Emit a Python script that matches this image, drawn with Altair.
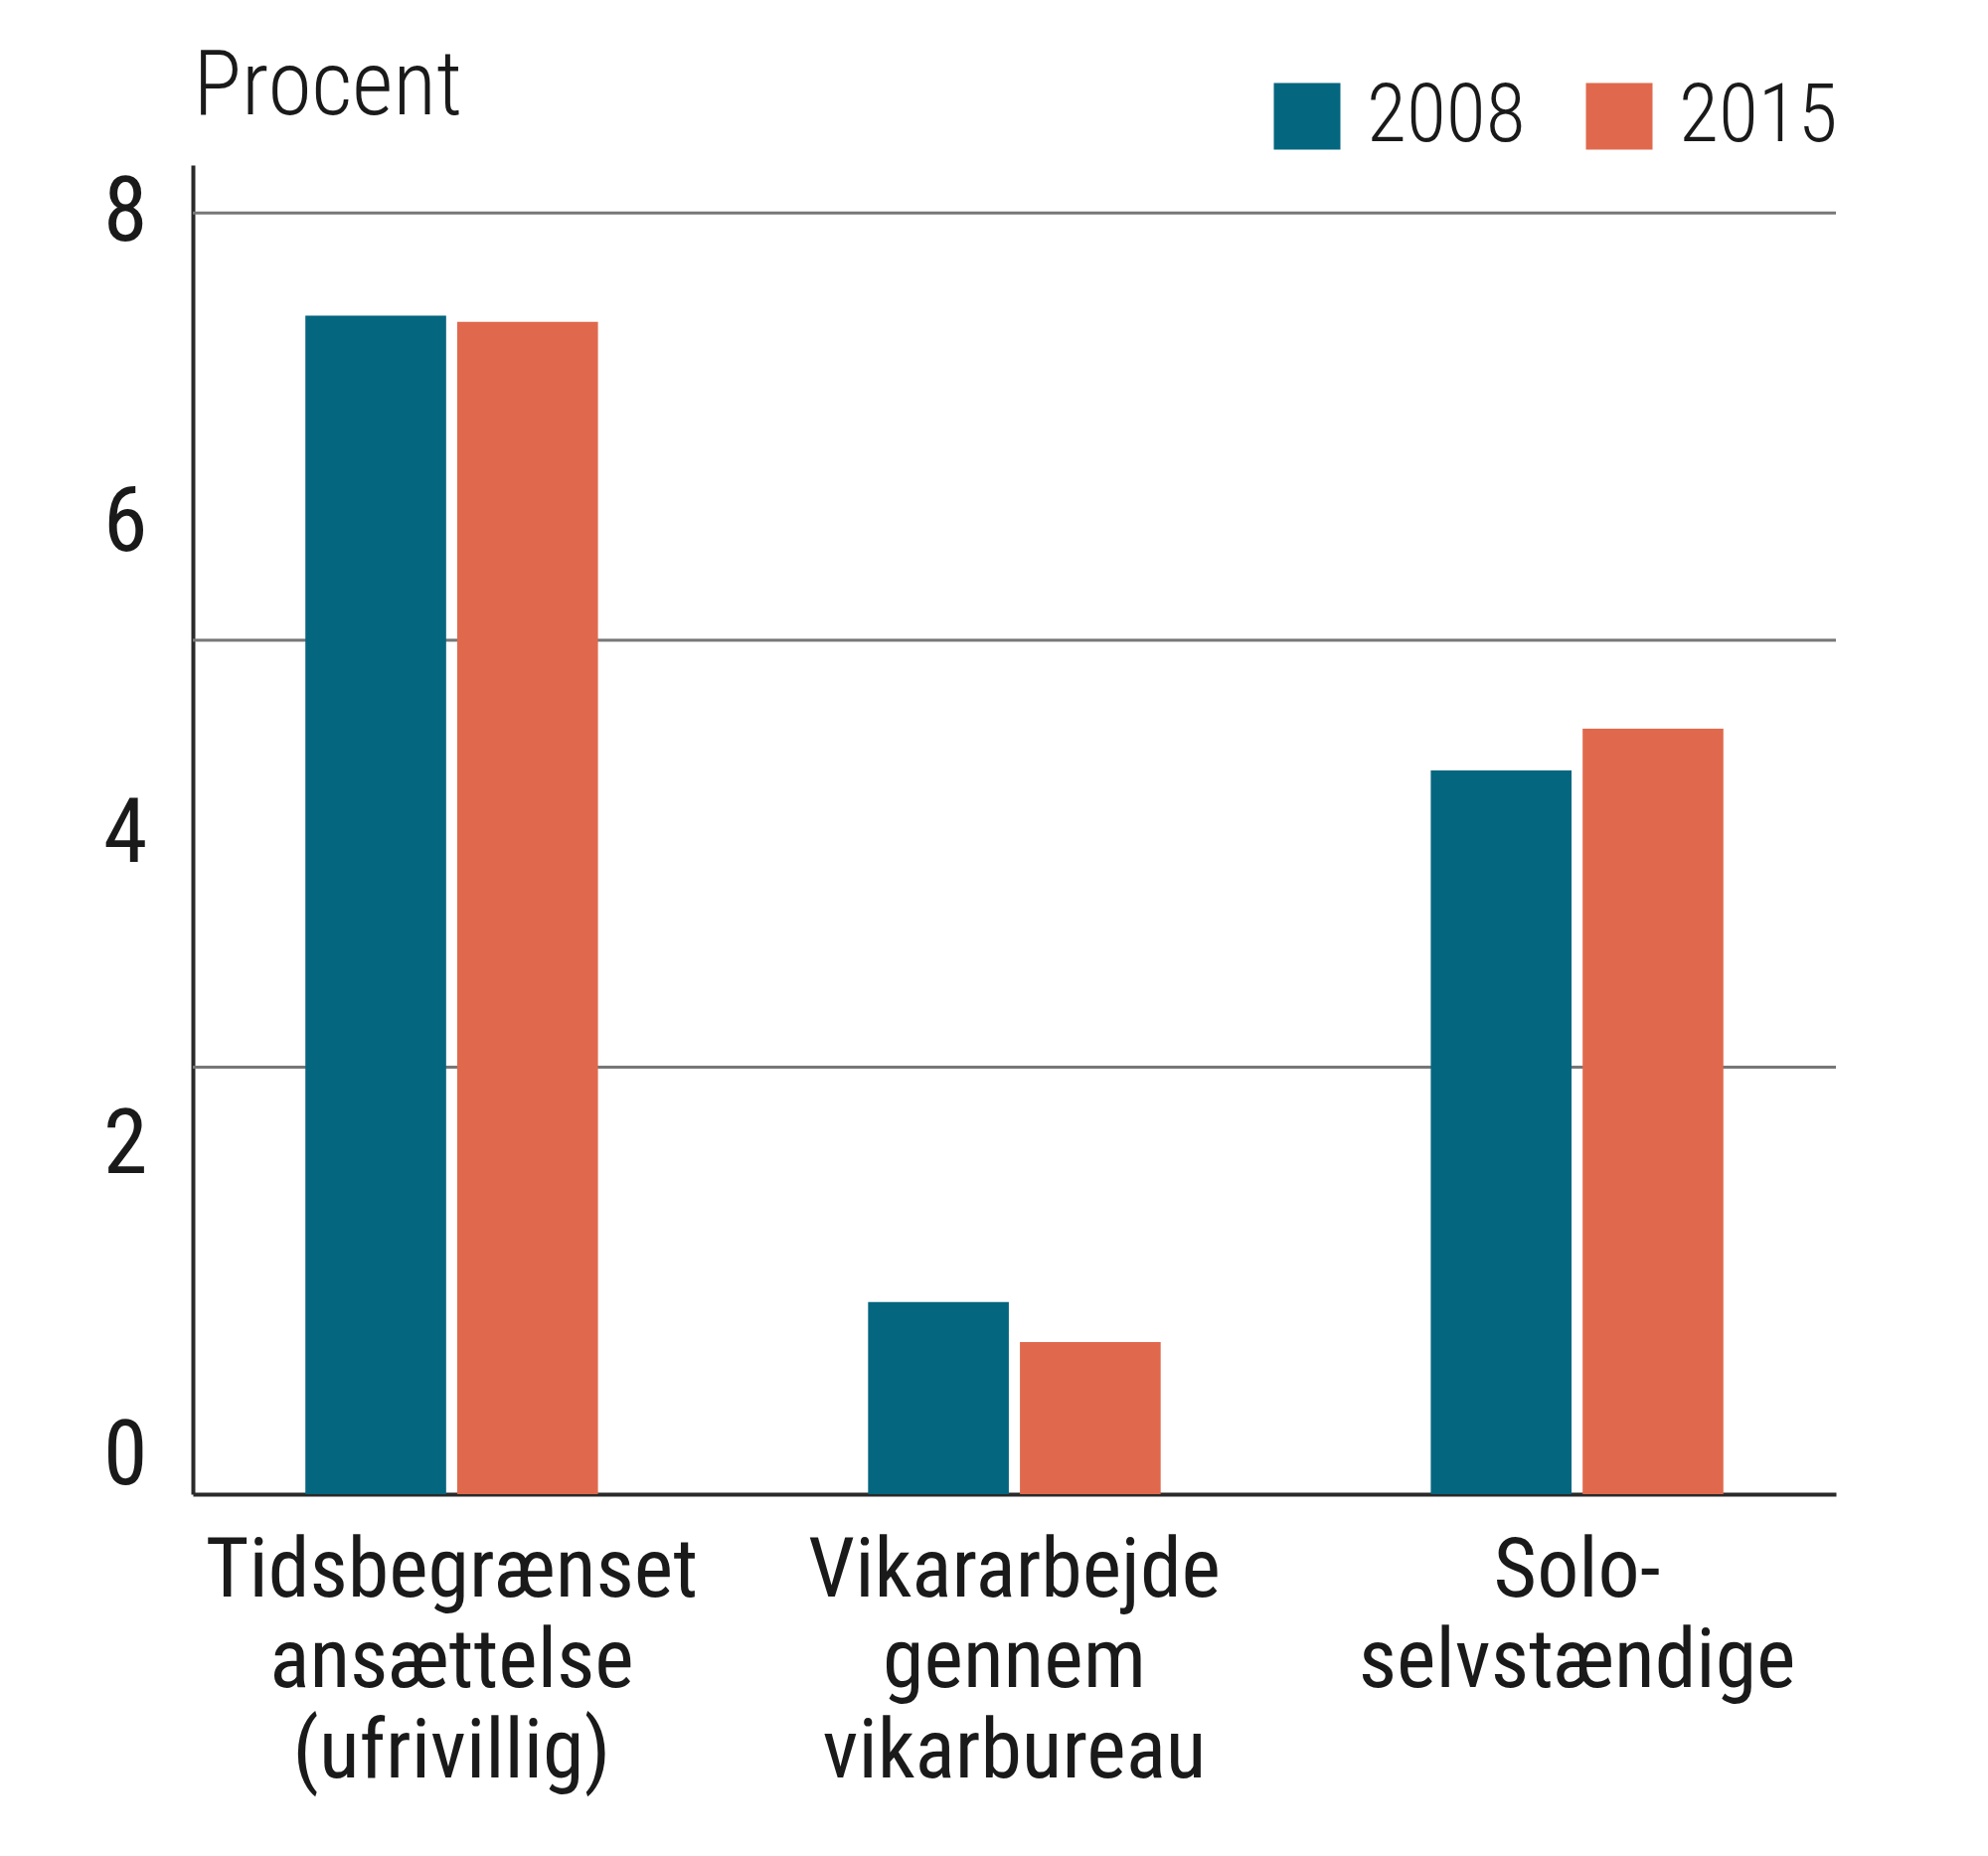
import altair as alt
import pandas as pd

# values (percent)
categories = [
    "Tidsbegrænset\nansættelse\n(ufrivillig)",
    "Vikararbejde\ngennem\nvikarbureau",
    "Solo-\nselvstændige",
]
years = ["2008", "2015"]
values_2008 = [7.36, 1.20, 4.52]
values_2015 = [7.32, 0.95, 4.78]

# axis furniture
grid_values = [8 / 3, 16 / 3, 8]
tick_labels = [0, 2, 4, 6, 8]

colors = ["#05667f", "#e0694d"]
FONT = "Roboto Condensed, Liberation Sans Narrow, Roboto, sans-serif"

rows = []
for i, cat in enumerate(categories):
    rows.append({"cat": cat, "year": years[0], "value": values_2008[i]})
    rows.append({"cat": cat, "year": years[1], "value": values_2015[i]})
bars_df = pd.DataFrame(rows)
grid_df = pd.DataFrame({"g": grid_values})
ticks_df = pd.DataFrame({"v": tick_labels})

y_main = alt.Scale(domain=[0, 8.30], nice=False, zero=False)

bars = (
    alt.Chart(bars_df)
    .mark_bar()
    .encode(
        x=alt.X("cat:N", sort=categories, title=None,
                scale=alt.Scale(paddingInner=0.48, paddingOuter=0.20),
                axis=alt.Axis(labelExpr="split(datum.label, '\\n')",
                              labelAngle=0, labelFont=FONT, labelFontSize=84,
                              labelFontWeight="normal", labelColor="#1a1a1a",
                              labelLineHeight=91, labelBaseline="top",
                              labelPadding=36, labelLimit=0, ticks=False,
                              domainColor="#2a2a2a", domainWidth=4)),
        xOffset=alt.XOffset("year:N", scale=alt.Scale(paddingInner=0.073)),
        y=alt.Y("value:Q", scale=y_main, axis=None),
        color=alt.Color("year:N", scale=alt.Scale(domain=years, range=colors),
                        legend=alt.Legend(title=None, orient="none",
                                          direction="horizontal",
                                          legendX=1080, legendY=-90,
                                          symbolType="square", symbolSize=4489,
                                          symbolStrokeWidth=0, symbolOpacity=1,
                                          labelFont=FONT, labelFontSize=82,
                                          labelFontWeight=300,
                                          labelColor="#1a1a1a", labelOffset=19,
                                          labelLimit=0, columnPadding=53)),
    )
)

grid = (
    alt.Chart(grid_df)
    .mark_rule(color="#777777", strokeWidth=3)
    .encode(y=alt.Y("g:Q", scale=y_main, axis=None))
)

labels = (
    alt.Chart(ticks_df)
    .mark_point(opacity=0)
    .encode(
        y=alt.Y("v:Q", scale=alt.Scale(domain=[-0.243, 8.307], nice=False, zero=False),
                axis=alt.Axis(values=tick_labels, orient="left", grid=False,
                              ticks=False, domain=True, domainColor="#2a2a2a",
                              domainWidth=4, labelFont=FONT, labelFontSize=90,
                              labelColor="#1a1a1a", labelPadding=46,
                              title="Procent", titleAngle=0, titleAlign="left",
                              titleBaseline="alphabetic", titleX=0, titleY=-52,
                              titleFont=FONT, titleFontSize=90,
                              titleFontWeight=300, titleColor="#1a1a1a"))
    )
)

chart = (
    alt.layer(grid, bars, labels)
    .resolve_scale(y="independent")
    .properties(width=1653, height=1337,
                autosize=alt.AutoSizeParams(type="none"),
                padding={"left": 186, "top": 158, "right": 137, "bottom": 350})
    .configure(background="white", view=alt.ViewConfig(stroke=None))
)

chart.save("out.html", embed_options={"renderer": "svg", "actions": False})
